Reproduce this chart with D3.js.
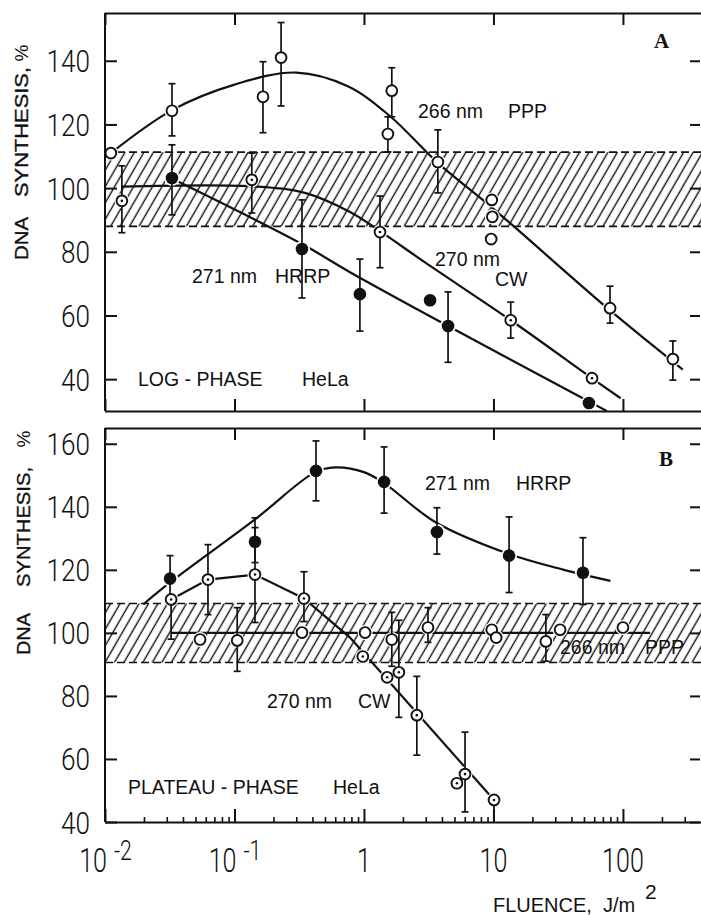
<!DOCTYPE html>
<html><head><meta charset="utf-8">
<script src="https://cdn.jsdelivr.net/npm/d3@7"></script>
<style>body{margin:0;background:#fff}svg{display:block}</style>
</head><body>
<svg id="c" width="701" height="915"></svg>
<script>
// ---------- data ----------
const xTicks = [0.01, 0.1, 1, 10, 100];
const xTickLabels = [["10","-2"],["10","-1"],["1",""],["10",""],["100",""]];
const xMinor = [0.02,0.03,0.04,0.05,0.06,0.07,0.08,0.09,0.2,0.3,0.4,0.5,0.6,0.7,0.8,0.9,
  2,3,4,5,6,7,8,9,20,30,40,50,60,70,80,90,200,300];
const yTicksA = [40,60,80,100,120,140];
const yTicksB = [40,60,80,100,120,140,160];
const bandA = [88, 111.3];
const bandB = [90.6, 109.3];

// points: [fluence, value, errLow, errHigh]
const pppA = [[0.0111,111,null,null],[0.0329,124.3,116.4,132.8],[0.166,128.7,117.4,139.7],
  [0.229,141,125.8,152],[1.64,130.6,122.4,137.8],[1.53,117,111.4,122.4],[3.72,108.2,98.5,118.3],
  [9.7,96.3,null,null],[9.8,91,null,null],[9.6,84,null,null],[79.5,62.3,57.6,69.2],[243,46.3,39.7,52]];
const cwA = [[0.0135,96,86,107],[0.136,102.6,92.2,111],[1.33,86.2,75,97.5],[13.6,58.5,52.9,64.2],
  [57.7,40.3,null,null]];
const hrrpA = [[0.0329,103.2,91.6,113.6],[0.332,80.9,65.5,96.3],[0.93,66.7,55.1,77.7],
  [3.24,64.8,null,null],[4.46,56.7,45.3,67.4],[54.6,32.5,null,null]];

const pppB = [[0.0542,97.9,null,null],[0.105,97.6,87.8,108],[0.332,100.1,null,null],
  [1.02,100.1,null,null],[1.64,97.9,89.4,106.5],[3.12,101.7,97,108],[9.7,101,null,null],
  [10.5,98.5,null,null],[25.4,97.3,91,105.8],[32.7,101,null,null],[100,101.7,null,null]];
const cwB = [[0.0324,110.6,98,null],[0.0624,116.9,105.8,128],[0.144,118.5,103.3,133.4],
  [0.344,110.9,103.6,119.4],[0.98,92.5,null,null],[1.51,85.9,null,null],[1.86,87.5,73.2,104],
  [2.56,73.9,61.2,86.2],[5.22,52.3,null,null],[6.03,55.2,43.2,68.5],[10.1,47,38,null]];
const hrrpB = [[0.0318,117.2,110,124.5],[0.144,128.9,122.3,136.5],[0.426,151.4,141.9,160.9],
  [1.43,147.9,138,159],[3.66,132,125,139.7],[13.2,124.5,112.8,136.8],[49.1,119.1,109,130.2]];

// fitted curves: [fluence, value]
const pppCurveA = [[0.0111,111],[0.033,124.5],[0.1,132.5],[0.3,136.3],[0.75,132],[1.6,122.5],
  [3.7,108],[10,93.5],[80,61.5],[290,43]];
const cwCurveA = [[0.0135,100.5],[0.15,100.5],[0.35,98.5],[0.78,92.5],[1.33,86.5],[3,76.5],
  [13.6,58.5],[57.7,40.3],[96,34]];
const hrrpCurveA = [[0.0329,103],[0.33,82.5],[0.78,73.6],[4.46,56.7],[54.6,33],[75,30]];
const pppCurveB = [[0.0324,100],[162,100]];
const cwCurveB = [[0.0324,110.6],[0.0624,116.9],[0.144,118.5],[0.344,110.9],[0.78,98.5],[10.1,47]];
const hrrpCurveB = [[0.0197,109],[0.0318,116],[0.144,136],[0.42,151],[0.6,152.5],[1.0,151],
  [1.43,147.5],[3.6,135],[13.2,125],[35,120],[80,116.5]];

// ---------- drawing ----------
const svg = d3.select("#c");
const L = 105, R = 700;
const x = d3.scaleLog().domain([0.01, 393.6]).range([L, R]);
const panels = [
  {id:"A", top:13, bottom:411, y:d3.scaleLinear().domain([30,155]).range([411,13]), ticks:yTicksA, band:bandA,
   series:[{d:pppA,s:"open"},{d:cwA,s:"dot"},{d:hrrpA,s:"fill"}],
   curves:[{d:pppCurveA,smooth:true},{d:cwCurveA,smooth:true},{d:hrrpCurveA,smooth:true}], minor:false},
  {id:"B", top:428, bottom:822, y:d3.scaleLinear().domain([40,165]).range([822,428]), ticks:yTicksB, band:bandB,
   series:[{d:pppB,s:"open"},{d:cwB,s:"dot"},{d:hrrpB,s:"fill"}],
   curves:[{d:pppCurveB,smooth:false},{d:cwCurveB,smooth:false},{d:hrrpCurveB,smooth:true}], minor:true}
];

const defs = svg.append("defs");
const pat = defs.append("pattern").attr("id","hatch").attr("patternUnits","userSpaceOnUse")
  .attr("width",8.2).attr("height",10).attr("patternTransform","rotate(30)");
pat.append("line").attr("x1",4).attr("y1",-1).attr("x2",4).attr("y2",11)
  .attr("stroke","#111").attr("stroke-width",1.4);

const INK = "#111";
const tickFont = "Roboto,'Liberation Sans Narrow',sans-serif";
const textFont = "'Liberation Sans',Arial,Helvetica,sans-serif";

panels.forEach((p,i)=>{
  const y = p.y;
  const g = svg.append("g");
  defs.append("clipPath").attr("id","clip"+p.id).append("rect")
    .attr("x",L).attr("y",p.top).attr("width",R-L+1).attr("height",p.bottom-p.top);

  // band
  const by0 = y(p.band[1]), by1 = y(p.band[0]);
  g.append("rect").attr("x",L).attr("y",by0).attr("width",R-L+1).attr("height",by1-by0)
    .attr("fill","url(#hatch)");
  [by0,by1].forEach(v=>g.append("line").attr("x1",L).attr("x2",R+1).attr("y1",v).attr("y2",v)
    .attr("stroke",INK).attr("stroke-width",1.6).attr("stroke-dasharray","8,4"));

  const cg = g.append("g").attr("clip-path","url(#clip"+p.id+")");
  // curves
  p.curves.forEach(c=>{
    const line = d3.line().x(d=>x(d[0])).y(d=>y(d[1]))
      .curve(c.smooth ? d3.curveCatmullRom.alpha(0.5) : d3.curveLinear);
    cg.append("path").attr("d",line(c.d)).attr("fill","none").attr("stroke",INK).attr("stroke-width",2.2);
  });
  // halos
  p.series.forEach(s=>{
    cg.selectAll(null).data(s.d).enter().append("circle")
      .attr("cx",d=>x(d[0])).attr("cy",d=>y(d[1])).attr("r",s.s==="fill"?8:7.5).attr("fill","#fff");
  });
  // error bars
  p.series.forEach(s=>{
    s.d.forEach(d=>{
      const cx = x(d[0]);
      const lo = d[2]==null?d[1]:d[2], hi = d[3]==null?d[1]:d[3];
      if (lo===hi) return;
      cg.append("line").attr("x1",cx).attr("x2",cx).attr("y1",y(lo)).attr("y2",y(hi))
        .attr("stroke",INK).attr("stroke-width",1.7);
      if (d[2]!=null) cg.append("line").attr("x1",cx-3.5).attr("x2",cx+3.5).attr("y1",y(lo)).attr("y2",y(lo))
        .attr("stroke",INK).attr("stroke-width",1.7);
      if (d[3]!=null) cg.append("line").attr("x1",cx-3.5).attr("x2",cx+3.5).attr("y1",y(hi)).attr("y2",y(hi))
        .attr("stroke",INK).attr("stroke-width",1.7);
    });
  });
  // symbols
  p.series.forEach(s=>{
    const sel = cg.selectAll(null).data(s.d).enter().append("g")
      .attr("transform",d=>`translate(${x(d[0])},${y(d[1])})`);
    if (s.s==="fill") {
      sel.append("circle").attr("r",6.3).attr("fill",INK);
    } else {
      sel.append("circle").attr("r",5.4).attr("fill","#fff").attr("stroke",INK).attr("stroke-width",1.9);
      if (s.s==="dot") sel.append("circle").attr("r",1.3).attr("fill",INK);
    }
  });

  // axes (frame)
  const styleAxis = a => { a.selectAll("path,line").attr("stroke",INK).attr("stroke-width",2); a.selectAll("text").remove(); };
  const top = g.append("g").attr("transform",`translate(0,${p.top})`)
    .call(d3.axisBottom(x).tickValues(xTicks).tickSize(12).tickSizeOuter(0).tickFormat(""));
  styleAxis(top);
  top.select(".domain").attr("d",`M${L},0.5H${R+1}`);
  const bot = g.append("g").attr("transform",`translate(0,${p.bottom})`)
    .call(d3.axisTop(x).tickValues(xTicks).tickSize(p.minor?13:12).tickSizeOuter(0).tickFormat(""));
  styleAxis(bot);
  bot.select(".domain").attr("d",`M${L},0.5H${R+1}`);
  if (p.minor) {
    const mn = g.append("g").attr("transform",`translate(0,${p.bottom})`)
      .call(d3.axisTop(x).tickValues(xMinor).tickSize(5).tickSizeOuter(0).tickFormat(""));
    mn.selectAll("line").attr("stroke",INK).attr("stroke-width",1.6);
    mn.select(".domain").remove();
  }
  const left = g.append("g").attr("transform",`translate(${L},0)`)
    .call(d3.axisRight(y).tickValues(p.ticks).tickSize(12).tickSizeOuter(0).tickFormat(""));
  styleAxis(left);
  left.select(".domain").attr("d",`M0,${p.top}V${p.bottom}`);
  const right = g.append("g").attr("transform",`translate(${R},0)`)
    .call(d3.axisLeft(y).tickValues(p.ticks).tickSize(10).tickSizeOuter(0).tickFormat(""));
  styleAxis(right);
  right.select(".domain").remove();

  // y tick labels
  g.selectAll(null).data(p.ticks).enter().append("text")
    .attr("x",90).attr("y",d=>y(d)+11.5).attr("text-anchor","end")
    .attr("font-family",tickFont).attr("font-weight",300).attr("font-size",32).attr("fill",INK)
    .attr("textLength",d=>String(d).length*14.5).attr("lengthAdjust","spacingAndGlyphs")
    .text(d=>d);
});

// x tick labels (bottom of panel B), drawn condensed through a horizontal scale
xTicks.forEach((v,i)=>{
  const [m,s] = xTickLabels[i];
  const cx = x(v);
  const gl = svg.append("g").attr("transform",`translate(${cx},0) scale(0.76,1)`);
  const mt = gl.append("text").attr("y",872)
    .attr("font-family",tickFont).attr("font-weight",300).attr("font-size",33).attr("fill",INK).text(m);
  if (s) {
    mt.attr("x",2/0.76).attr("text-anchor","end");
    gl.append("text").attr("x",9/0.76).attr("y",860)
      .attr("font-family",tickFont).attr("font-weight",300).attr("font-size",28).attr("fill",INK).text(s);
  } else {
    mt.attr("x",0).attr("text-anchor","middle");
  }
});

// axis titles
const txt = (s,xx,yy,opt={}) => svg.append("text").attr("x",xx).attr("y",yy)
  .attr("font-family",opt.font||textFont).attr("font-size",opt.size||19.5)
  .attr("font-weight",opt.weight||"normal").attr("fill",INK).text(s);

svg.append("text").attr("x",493).attr("y",912).attr("font-family",textFont).attr("font-size",20)
  .attr("fill",INK).text("FLUENCE,\u00a0\u00a0J/m");
svg.append("text").attr("x",645).attr("y",899).attr("font-family",textFont).attr("font-size",21)
  .attr("fill",INK).text("2");

[{dna:[217,260],syn:[67,197],pc:53,bx:28},{dna:[613,655],syn:[467,587],pc:439,bx:30}].forEach(o=>{
  const rot = (s,y0,y1,len)=>{
    const t = svg.append("text").attr("transform",`translate(${o.bx},${y1}) rotate(-90)`)
      .attr("font-family",textFont).attr("font-size",19).attr("fill",INK)
      .attr("stroke",INK).attr("stroke-width",0.35).text(s);
    if (len) t.attr("textLength",y1-y0).attr("lengthAdjust","spacingAndGlyphs");
  };
  rot("DNA",o.dna[0],o.dna[1],true);
  rot("SYNTHESIS,",o.syn[0],o.syn[1],true);
  svg.append("text").attr("transform",`translate(${o.bx},${o.pc}) rotate(-90)`).attr("text-anchor","middle")
    .attr("font-family",textFont).attr("font-size",19).attr("fill",INK).text("%");
});

// annotations panel A
txt("266 nm",418,118); txt("PPP",508,118);
txt("270 nm",435,266); txt("CW",495,286);
txt("271 nm",192,283); txt("HRRP",275,283);
txt("LOG - PHASE",138,386); txt("HeLa",302,386);
txt("A",654,48,{font:"'Liberation Serif','DejaVu Serif',serif",size:21,weight:"bold"});
// annotations panel B
txt("271 nm",425,490); txt("HRRP",516,490);
txt("266 nm",560,654); txt("PPP",645,654);
txt("270 nm",267,708); txt("CW",358,708);
txt("PLATEAU - PHASE",128,794); txt("HeLa",333,794);
txt("B",659,466,{font:"'Liberation Serif','DejaVu Serif',serif",size:21,weight:"bold"});
</script>
</body></html>
